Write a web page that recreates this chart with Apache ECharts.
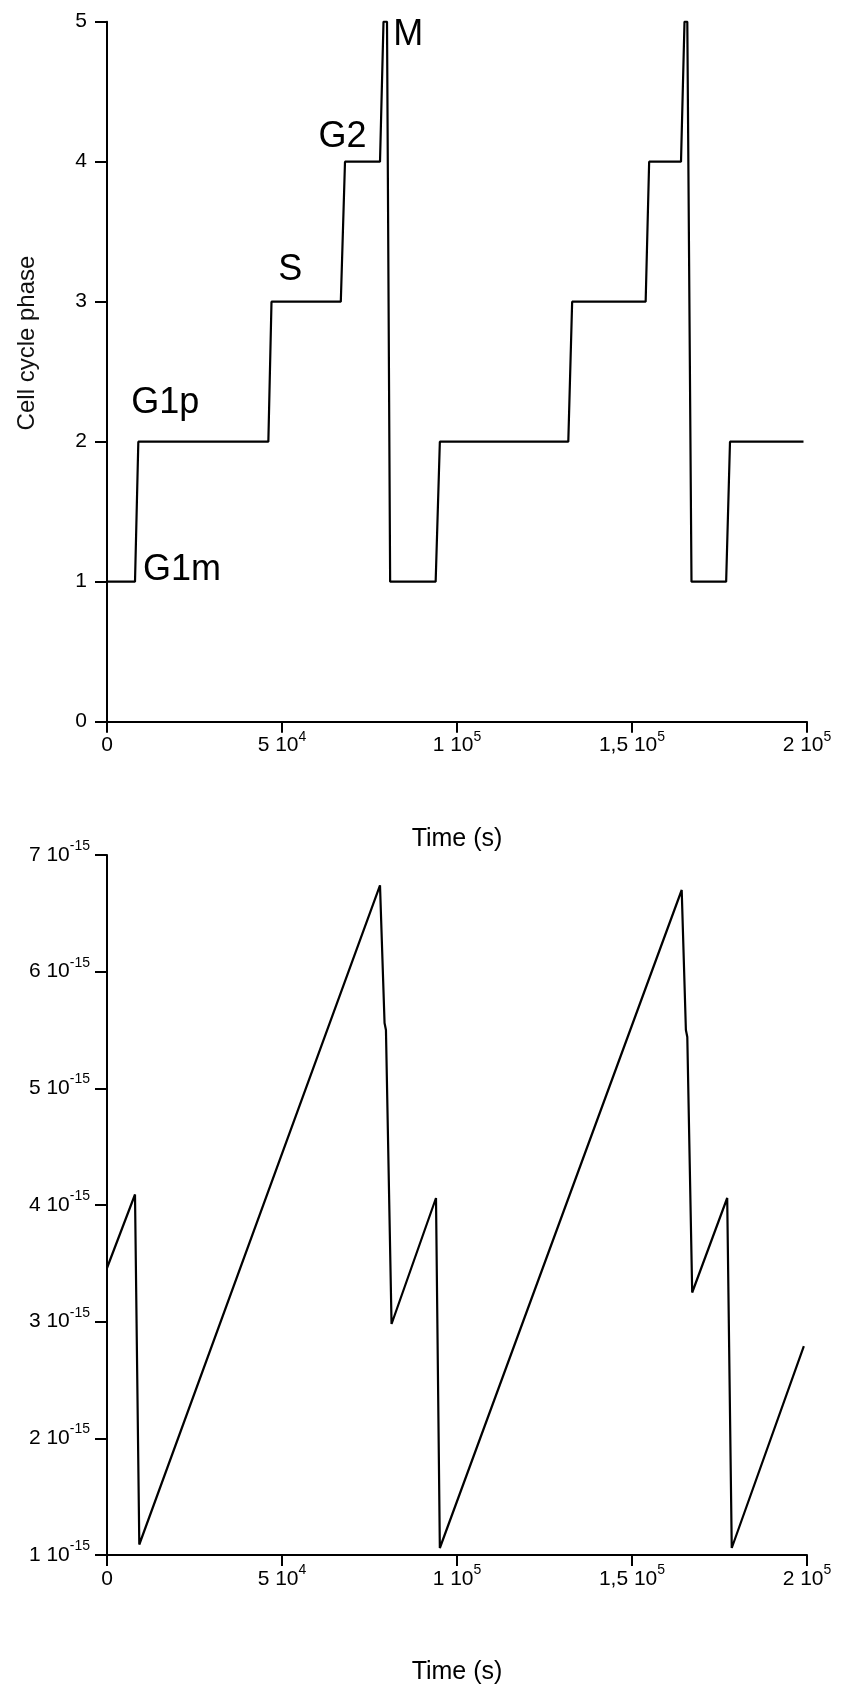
<!DOCTYPE html>
<html>
<head>
<meta charset="utf-8">
<script src="https://cdn.jsdelivr.net/npm/echarts@6/dist/echarts.min.js"></script>
<style>
  html, body { margin: 0; padding: 0; background: #fff; }
  #chart { width: 842px; height: 1686px; }
</style>
</head>
<body>
<div id="chart"></div>
<script>
// ---- Data ----
// Top panel: cell cycle phase (1=G1m, 2=G1p, 3=S, 4=G2, 5=M) vs time (s)
const phaseTime  = [0, 8000, 8950, 46100, 47000, 66800, 68000, 78000, 79000, 80000, 80900,
                    93900, 95100, 131800, 132900, 153900, 154900, 164000, 165000, 165800, 167000,
                    176900, 178000, 199000];
const phaseValue = [1, 1, 2, 2, 3, 3, 4, 4, 5, 5, 1,
                    1, 2, 2, 3, 3, 4, 4, 5, 5, 1,
                    1, 2, 2];

// Phase annotations (text, time, phase level)
const phaseLabels     = ['G1m', 'G1p', 'S', 'G2', 'M'];
const phaseLabelTime  = [10300, 6900, 48900, 60400, 81800];
const phaseLabelValue = [1.08, 2.276, 3.226, 4.173, 4.905];

// Bottom panel: values in units of 1e-15 vs time (s)
const volTime  = [0, 8000, 9230, 78000, 79300, 79700, 81300, 94000, 95100,
                  164200, 165400, 165800, 167200, 177200, 178500, 199100];
const volValue = [3.46, 4.09, 1.09, 6.74, 5.56, 5.50, 2.98, 4.06, 1.06,
                  6.70, 5.50, 5.44, 3.25, 4.06, 1.06, 2.79];

// Tick labels
const xTicks       = [0, 50000, 100000, 150000, 200000];
const xTickMant    = ['0', '5', '1', '1,5', '2'];
const xTickExp     = ['', '4', '5', '5', '5'];
const volTicks     = [1, 2, 3, 4, 5, 6, 7];
const volTickMant  = ['1', '2', '3', '4', '5', '6', '7'];
const volTickExp   = '-15';

const FONT = '"Liberation Sans", Arial, Helvetica, sans-serif';
const INK = '#000000';

const richStyles = {
  m: { fontSize: 21, fontFamily: FONT, color: INK, lineHeight: 32 },
  e: { fontSize: 14, fontFamily: FONT, color: INK, lineHeight: 14, verticalAlign: 'top' }
};

function xLabel(v) {
  const i = xTicks.indexOf(v);
  if (i < 0) return '';
  return xTickExp[i] ? `{m|${xTickMant[i]} 10}{e|${xTickExp[i]}}` : `{m|${xTickMant[i]}}`;
}
function volLabel(v) {
  const i = volTicks.indexOf(v);
  if (i < 0) return '';
  return `{m|${volTickMant[i]} 10}{e|${volTickExp}}`;
}

const axisLine = { show: true, lineStyle: { color: INK, width: 2 } };

function xAxisCfg(gridIndex) {
  return {
    type: 'value', gridIndex, min: 0, max: 200000, interval: 50000,
    axisLine,
    axisTick: { show: true, inside: false, length: 11, lineStyle: { color: INK, width: 2 } },
    splitLine: { show: false },
    axisLabel: { formatter: xLabel, rich: richStyles, margin: 8 },
    name: 'Time (s)', nameLocation: 'middle', nameGap: 105,
    nameTextStyle: { fontSize: 25, fontFamily: FONT, color: INK }
  };
}

const chart = echarts.init(document.getElementById('chart'), null, { renderer: 'canvas' });

chart.setOption({
  animation: false,
  backgroundColor: '#ffffff',
  grid: [
    { left: 107, top: 21.7, width: 700, height: 700 },
    { left: 107, top: 855, width: 700, height: 701 }
  ],
  xAxis: [xAxisCfg(0), xAxisCfg(1)],
  yAxis: [
    {
      type: 'value', gridIndex: 0, min: 0, max: 5, interval: 1,
      axisLine,
      axisTick: { show: true, inside: false, length: 12, lineStyle: { color: INK, width: 2 } },
      splitLine: { show: false },
      axisLabel: { fontSize: 21, fontFamily: FONT, color: INK, margin: 20 }
    },
    {
      type: 'value', gridIndex: 1, min: 1, max: 7, interval: 1,
      axisLine,
      axisTick: { show: true, inside: false, length: 12, lineStyle: { color: INK, width: 2 } },
      splitLine: { show: false },
      axisLabel: { formatter: volLabel, rich: richStyles, margin: 17 }
    }
  ],
  graphic: [
    {
      type: 'text', x: 27, y: 343, rotation: Math.PI / 2,
      style: {
        text: 'Cell cycle phase', font: '24px ' + FONT, fill: '#111',
        align: 'center', verticalAlign: 'middle',
        textAlign: 'center', textVerticalAlign: 'middle'
      }
    }
  ],
  series: [
    {
      type: 'line', xAxisIndex: 0, yAxisIndex: 0,
      data: phaseTime.map((t, i) => [t, phaseValue[i]]),
      showSymbol: false, symbol: 'none',
      lineStyle: { color: INK, width: 2.2 }
    },
    {
      type: 'scatter', xAxisIndex: 0, yAxisIndex: 0,
      symbolSize: 0, silent: true,
      itemStyle: { opacity: 1, color: INK },
      data: phaseLabels.map((n, i) => ({ name: n, value: [phaseLabelTime[i], phaseLabelValue[i]] })),
      label: {
        show: true, position: 'right', distance: 0,
        formatter: p => p.name,
        fontSize: 36, fontFamily: FONT, color: INK, opacity: 1
      }
    },
    {
      type: 'line', xAxisIndex: 1, yAxisIndex: 1,
      data: volTime.map((t, i) => [t, volValue[i]]),
      showSymbol: false, symbol: 'none',
      lineStyle: { color: INK, width: 2.2 }
    }
  ]
});
</script>
</body>
</html>
